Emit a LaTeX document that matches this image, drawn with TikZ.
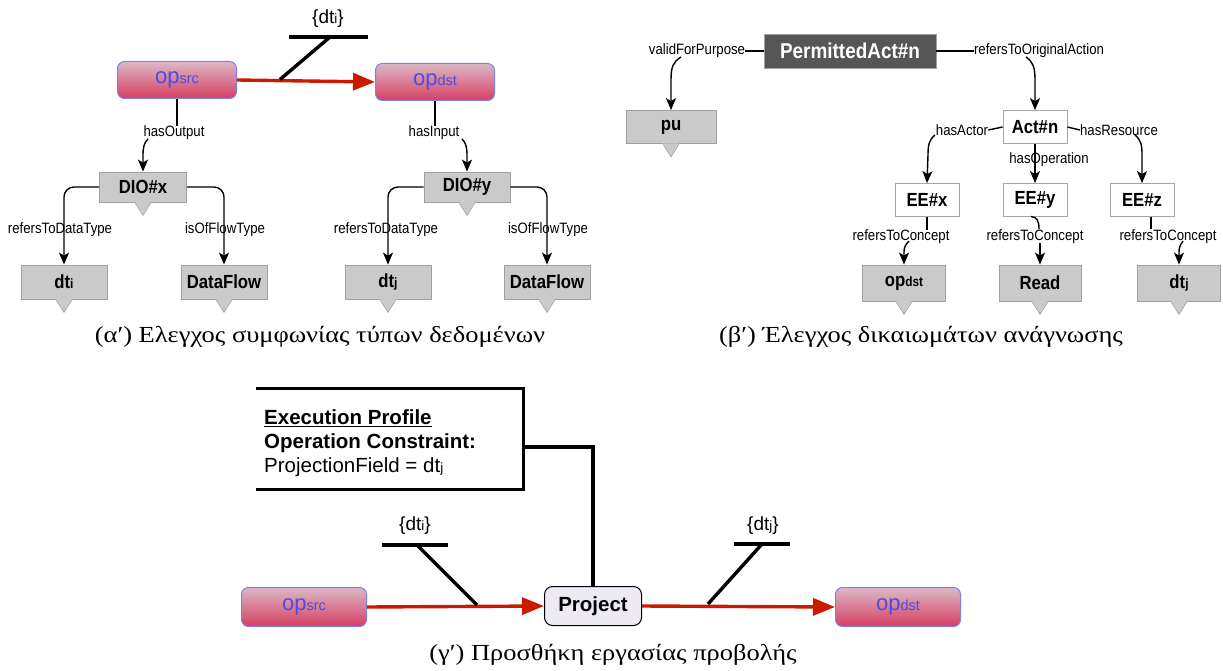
\documentclass[tikz,border=0pt]{standalone}
\usepackage{fontspec}
\setmainfont{Liberation Sans}
\newfontfamily\narrowsans[FakeStretch=0.88]{Liberation Sans}
\newfontfamily\capfont[FakeStretch=1.15]{Liberation Serif}
\usetikzlibrary{arrows.meta,calc}

\definecolor{opTop}{RGB}{220,184,198}
\definecolor{opBot}{RGB}{214,62,98}
\definecolor{opLine}{RGB}{128,128,232}
\definecolor{opText}{RGB}{76,76,222}
\definecolor{flowRed}{RGB}{204,26,0}
\definecolor{boxGray}{RGB}{202,202,202}
\definecolor{boxEdge}{RGB}{160,160,160}
\definecolor{permGray}{RGB}{86,86,86}
\definecolor{entEdge}{RGB}{165,165,165}
\definecolor{projFill}{RGB}{238,234,243}

% small trailing part of a name (src, dst, i, j)
\newcommand\smallpart[1]{{\fontsize{13.5}{14}\selectfont #1}}
\newcommand\opname[1]{\textcolor{opText}{{\fontsize{22}{22}\selectfont op}{\fontsize{14.5}{15}\selectfont #1}}}

\begin{document}
\begin{tikzpicture}[x=1pt,y=-1pt,
  lbl/.style={font=\narrowsans\fontsize{15}{16}\selectfont, inner sep=0pt},
  concept/.style={draw=boxEdge, fill=boxGray, line width=0.8pt,
    font=\narrowsans\bfseries\fontsize{19}{20}\selectfont,
    minimum width=86pt, minimum height=34pt, inner sep=0pt},
  entity/.style={draw=entEdge, fill=white, line width=0.8pt,
    font=\narrowsans\bfseries\fontsize{19}{20}\selectfont,
    minimum width=64pt, minimum height=33pt, inner sep=0pt},
  permbox/.style={draw=boxEdge, fill=permGray, text=white,
    font=\narrowsans\bfseries\fontsize{21.5}{22}\selectfont,
    minimum width=172pt, minimum height=34pt, inner sep=0pt},
  opnode/.style={rounded corners=7pt, draw=opLine, line width=1pt,
    top color=opTop, bottom color=opBot,
    minimum width=119pt, minimum height=37pt, inner sep=0pt},
  projbox/.style={rounded corners=8pt, draw=black, line width=1pt, fill=projFill,
    font=\bfseries\fontsize{20.5}{21}\selectfont,
    minimum width=97pt, minimum height=39pt, inner sep=0pt},
  edge/.style={line width=1.4pt},
  arr/.style={line width=1.4pt, -{Stealth[length=12pt,width=10pt,inset=3pt]}},
  flow/.style={line width=3.4pt, draw=flowRed, -{Triangle[length=22pt,width=17pt]}},
  tagbar/.style={line width=3.4pt},
  taglbl/.style={font=\fontsize{19}{20}\selectfont, inner sep=0pt},
  bracket/.style={line width=3.2pt, line join=miter},
  caption/.style={font=\capfont\fontsize{23}{24}\selectfont, inner sep=0pt},
  pointer/.style={fill=boxGray, draw=boxEdge, line width=0.6pt}
]
\useasboundingbox (0,0) rectangle (1223,671);

% ---------------- (a) data type agreement ----------------
\node[opnode] (srcA) at (177,80) {\opname{src}};
\node[opnode] (dstA) at (435,82) {\opname{dst}};
\draw[flow] (srcA.east) -- (dstA.west);
\node[taglbl] (tagA) at (328,19) {\{dt\smallpart{i}\}};
\coordinate (tagAfoot) at (280,79.5);
\coordinate (tagAtop) at (330,37);
\draw[tagbar] (289,37) -- (368,37);
\draw[tagbar] (tagAfoot) -- (tagAtop);

\node[lbl] (hoA) at (174,133) {hasOutput};
\node[lbl] (hiA) at (434,133) {hasInput};
\node[concept, minimum width=87pt, minimum height=30pt] (dioX) at (143,187) {DIO\#x};
\node[concept, minimum width=86pt, minimum height=30pt] (dioY) at (467,187) {DIO\#y};
\node[concept] (dtiA) at (64,282) {dt\smallpart{i}};
\node[concept] (dfA)  at (224,282) {DataFlow};
\node[concept] (dtjA) at (388,282) {dt\smallpart{j}};
\node[concept] (dfB)  at (547,282) {DataFlow};

\draw[edge] (srcA.south) -- (srcA.south |- hoA.north);
\draw[arr] (148,139) .. controls (144,143) and (143,147) .. (143,156) -- (dioX.north);
\draw[edge] (dstA.south) -- (dstA.south |- hiA.north);
\draw[arr] (462,139) .. controls (466,143) and (467,147) .. (467,156) -- (dioY.north);

\draw[arr, rounded corners=10pt] (dioX.west) -- (dioX.west -| dtiA.north) -- (dtiA.north);
\draw[arr, rounded corners=10pt] (dioX.east) -- (dioX.east -| dfA.north) -- (dfA.north);
\draw[arr, rounded corners=10pt] (dioY.west) -- (dioY.west -| dtjA.north) -- (dtjA.north);
\draw[arr, rounded corners=10pt] (dioY.east) -- (dioY.east -| dfB.north) -- (dfB.north);
\node[lbl] (rdtX) at (60,230) {refersToDataType};
\node[lbl] (iftX) at (225,230) {isOfFlowType};
\node[lbl] (rdtY) at (386,230) {refersToDataType};
\node[lbl] (iftY) at (548,230) {isOfFlowType};

\node[caption] (capA) at (320,337) {(α′) Ελεγχος συμφωνίας τύπων δεδομένων};

% ---------------- (b) read permission check ----------------
\node[permbox] (perm) at (850,51) {PermittedAct\#n};
\node[lbl] (vfp) at (697,51) {validForPurpose};
\node[lbl] (rtoa) at (1039,51) {refersToOriginalAction};
\draw[edge] (perm.west) -- (vfp.east);
\draw[edge] (perm.east) -- (rtoa.west);

\node[concept, minimum width=90pt, minimum height=33pt] (pu) at (671,127) {pu};
\node[entity] (act) at (1035,127) {Act\#n};
\draw[arr] (681,57) .. controls (673,62) and (671,67) .. (671,80) -- (pu.north);
\draw[arr] (1026,57) .. controls (1033,62) and (1035,67) .. (1035,80) -- (act.north);

\node[lbl] (hasA) at (962,130) {hasActor};
\node[lbl] (hasR) at (1119,130) {hasResource};
\node[lbl] (hasO) at (1049,160) {hasOperation};
\node[entity] (eex) at (927,200) {EE\#x};
\node[entity] (eey) at (1035,200) {EE\#y};
\node[entity] (eez) at (1142,200) {EE\#z};
\draw[edge] (act.west) -- (hasA.east);
\draw[edge] (act.east) -- (hasR.west);
\draw[arr] (935,135) .. controls (929,140) and (928,145) .. (928,155) -- (eex.north);
\draw[arr] (1135,135) .. controls (1141,140) and (1142,145) .. (1142,155) -- (eez.north);
\draw[arr] (act.south) -- (eey.north);

\node[lbl] (rtcX) at (901,237) {refersToConcept};
\node[lbl] (rtcY) at (1035,237) {refersToConcept};
\node[lbl] (rtcZ) at (1168,237) {refersToConcept};
\node[concept, minimum width=83pt, minimum height=36pt] (opdB) at (904,283) {op\smallpart{dst}};
\node[concept, minimum width=82pt, minimum height=36pt] (readB) at (1040,283) {Read};
\node[concept, minimum width=83pt, minimum height=36pt] (dtjB) at (1179,283) {dt\smallpart{j}};
\draw[edge] (eex.south) -- (eex.south |- rtcX.north);
\draw[arr] (909,241) .. controls (905,245) and (904,248) .. (904,252) -- (opdB.north);
\draw[edge] (1031,216.5) .. controls (1037,217) and (1039,221) .. (1039,229);
\draw[arr] (1040,243) -- (readB.north);
\draw[edge] (eez.south -| 1151,0) -- (1151,229);
\draw[arr] (1183,241) .. controls (1180,245) and (1179,248) .. (1179,252) -- (dtjB.north);

\node[caption] (capB) at (921,337) {(β′) Έλεγχος δικαιωμάτων ανάγνωσης};

% ---------------- (c) adding a projection operation ----------------
\node[minimum width=267pt, minimum height=100pt, inner sep=0pt] (prof) at (389.5,439) {};
\draw[bracket] (prof.north west) -- (prof.north east) -- (prof.south east) -- (prof.south west);
\node[anchor=west, inner sep=0pt, font=\bfseries\fontsize{20.5}{21}\selectfont] (profT) at (264,418) {\underline{Execution Profile}};
\node[anchor=west, inner sep=0pt, font=\bfseries\fontsize{20.5}{21}\selectfont] (profC) at (264,443) {Operation Constraint:};
\node[anchor=west, inner sep=0pt, font=\fontsize{20.5}{21}\selectfont] (profV) at (264,467) {ProjectionField = dt\smallpart{j}};

\node[opnode, minimum width=125pt, minimum height=39pt] (srcC) at (304,607) {\opname{src}};
\node[projbox] (proj) at (593,606) {Project};
\node[opnode, minimum width=125pt, minimum height=39pt] (dstC) at (898,607) {\opname{dst}};
\draw[bracket] ($(prof.east)+(0,8)$) -| (proj.north);
\draw[flow] (srcC.east) -- (proj.west);
\draw[flow] (proj.east) -- (dstC.west);

\node[taglbl] (tagC1) at (415,526) {\{dt\smallpart{i}\}};
\draw[tagbar] (382,545) -- (448,545);
\draw[tagbar] (417,545) -- (477,605);
\node[taglbl] (tagC2) at (763,526) {\{dt\smallpart{j}\}};
\draw[tagbar] (734,544) -- (790,544);
\draw[tagbar] (762,544) -- (708,604);

\node[caption] (capC) at (613,655) {(γ′) Προσθήκη εργασίας προβολής};

% pointers under the concept boxes
\foreach \n in {dioX,dioY,dtiA,dfA,dtjA,dfB,pu,opdB,readB,dtjB}{
  \fill[boxGray] ($(\n.south)+(-8,-0.5)$) -- ($(\n.south)+(8,-0.5)$) -- ($(\n.south)+(0,13)$) -- cycle;
  \draw[boxEdge, line width=0.6pt] ($(\n.south)+(-8,0.4)$) -- ($(\n.south)+(0,13)$) -- ($(\n.south)+(8,0.4)$);
}
\end{tikzpicture}
\end{document}
